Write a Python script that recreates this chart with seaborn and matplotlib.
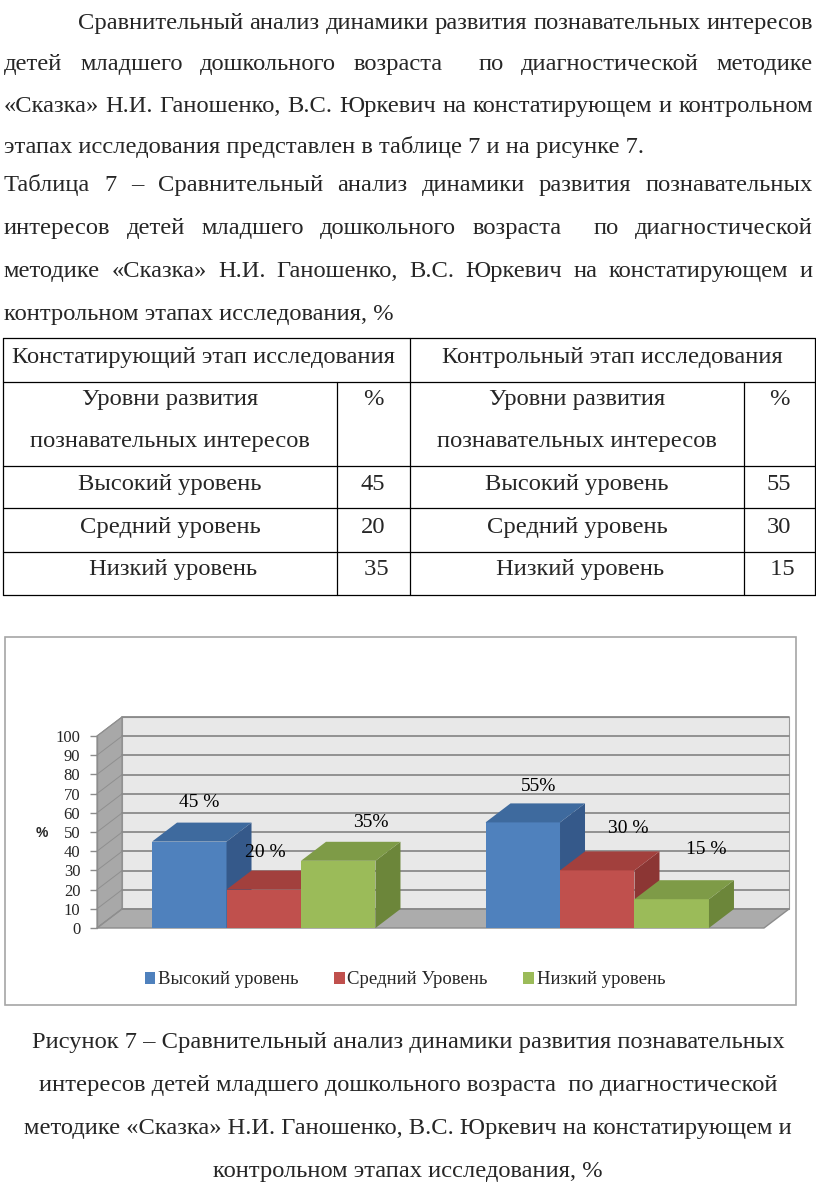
import matplotlib
matplotlib.use("Agg")
import matplotlib.pyplot as plt
import seaborn as sns
import pandas as pd
from matplotlib.patches import Polygon, Rectangle
from matplotlib.lines import Line2D

# ---------------- data ----------------
stages = ["Констатирующий этап", "Контрольный этап"]
levels = ["Высокий уровень", "Средний Уровень", "Низкий уровень"]
high_values = [45, 55]
mid_values = [20, 30]
low_values = [35, 15]
label_texts = [["45 %", "55%"], ["20 %", "30 %"], ["35%", "15 %"]]
yticks = list(range(0, 101, 10))

table_header_1 = ["Констатирующий этап исследования", "Контрольный этап исследования"]
table_header_2a = "Уровни развития"
table_header_2b = "познавательных интересов"
table_levels = ["Высокий уровень", "Средний уровень", " Низкий уровень"]
table_stage1 = ["45", "20", " 35"]
table_stage2 = ["55", "30", " 15"]

paragraph_lines = [
    "Сравнительный анализ динамики развития познавательных интересов",
    "детей младшего дошкольного возраста  по диагностической методике",
    "«Сказка» Н.И. Ганошенко, В.С. Юркевич на констатирующем и контрольном",
    "этапах исследования представлен в таблице 7 и на рисунке 7.",
]
table_title_lines = [
    "Таблица 7 – Сравнительный анализ динамики развития познавательных",
    "интересов детей младшего дошкольного возраста  по диагностической",
    "методике «Сказка» Н.И. Ганошенко, В.С. Юркевич на констатирующем и",
    "контрольном этапах исследования, %",
]
caption_lines = [
    "Рисунок 7 – Сравнительный анализ динамики развития познавательных",
    "интересов детей младшего дошкольного возраста  по диагностической",
    "методике «Сказка» Н.И. Ганошенко, В.С. Юркевич на констатирующем и",
    "контрольном этапах исследования, %",
]

# ---------------- style ----------------
sns.set_style("white")
plt.rcParams["font.family"] = ["Liberation Serif", "DejaVu Serif"]

front_colors = ["#4F81BD", "#C0504D", "#9BBB59"]
top_colors = ["#3E6A9E", "#A2403D", "#7E9B47"]
side_colors = ["#35598A", "#8C3634", "#6C863A"]

W, H = 816, 1192
fig = plt.figure(figsize=(W / 100, H / 100), dpi=100)
fig.patch.set_facecolor("white")
renderer = fig.canvas.get_renderer()


def put(text, x, y, ha="left", fs=14, **kw):
    return fig.text(x / W, 1 - y / H, text, ha=ha, va="baseline", fontsize=fs, **kw)


def width_of(text, fs):
    t = put(text, 0, -500, fs=fs)
    w = t.get_window_extent(renderer).width
    t.remove()
    return w


def justify(text, y, x0, x1, fs):
    words = text.split(" ")
    objs, widths = [], []
    for wd in words:
        if wd == "":
            objs.append(None)
            widths.append(0.0)
            continue
        t = put(wd, 0, y, fs=fs)
        objs.append(t)
        widths.append(t.get_window_extent(renderer).width)
    gap = (x1 - x0 - sum(widths)) / (len(words) - 1)
    x = x0
    for t, wd in zip(objs, widths):
        if t is not None:
            t.set_x(x / W)
        x += wd + gap


def hline(x0, x1, y, **kw):
    fig.add_artist(Line2D([x0 / W, x1 / W], [1 - y / H, 1 - y / H],
                          transform=fig.transFigure, **kw))


def vline(x, y0, y1, **kw):
    fig.add_artist(Line2D([x / W, x / W], [1 - y0 / H, 1 - y1 / H],
                          transform=fig.transFigure, **kw))


# body font size fitted to the width of a left-aligned line
fs_body = 16 * 640 / width_of(paragraph_lines[3], 16)

# ---------------- paragraph ----------------
base_y = [29, 70, 112, 153]
justify(paragraph_lines[0], base_y[0], 78, 813, fs_body)
justify(paragraph_lines[1], base_y[1], 4, 813, fs_body)
justify(paragraph_lines[2], base_y[2], 4, 813, fs_body)
put(paragraph_lines[3], 4, base_y[3], fs=fs_body)

tt_y = [191, 234, 277, 320]
justify(table_title_lines[0], tt_y[0], 4, 813, fs_body)
justify(table_title_lines[1], tt_y[1], 4, 813, fs_body)
justify(table_title_lines[2], tt_y[2], 4, 813, fs_body)
put(table_title_lines[3], 4, tt_y[3], fs=fs_body)

# ---------------- table ----------------
lw_t = 0.9
row_y = [338, 382, 466, 508, 552, 595]
for yy in row_y:
    hline(3, 815, yy, color="black", lw=lw_t)
vline(3, 338, 595, color="black", lw=lw_t)
vline(410, 338, 595, color="black", lw=lw_t)
vline(815, 338, 595, color="black", lw=lw_t)
vline(337, 382, 595, color="black", lw=lw_t)
vline(744, 382, 595, color="black", lw=lw_t)

put(table_header_1[0], 203, 363, ha="center", fs=fs_body)
put(table_header_1[1], 612, 363, ha="center", fs=fs_body)
for cx, pcx in [(170, 373), (577, 779)]:
    put(table_header_2a, cx, 405, ha="center", fs=fs_body)
    put(table_header_2b, cx, 447, ha="center", fs=fs_body)
    put("%", pcx, 405, ha="center", fs=fs_body)
row_base = [490, 533, 575]
for i in range(3):
    put(table_levels[i], 170, row_base[i], ha="center", fs=fs_body)
    put(table_levels[i], 577, row_base[i], ha="center", fs=fs_body)
    put(table_stage1[i], 373, row_base[i], ha="center", fs=fs_body)
    put(table_stage2[i], 779, row_base[i], ha="center", fs=fs_body)

# ---------------- chart frame ----------------
fig.add_artist(Rectangle((5 / W, 1 - 1005 / H), (796 - 5) / W, (1005 - 637) / H,
                         transform=fig.transFigure, fill=False,
                         edgecolor="#A6A6A6", lw=1.2))

# axes = front plane of the 3D chart
ax = fig.add_axes([97 / W, 1 - 928 / H, (764 - 97) / W, (928 - 736) / H])
ax.set_facecolor("none")

df = pd.DataFrame({
    "stage": stages * 3,
    "level": [levels[0]] * 2 + [levels[1]] * 2 + [levels[2]] * 2,
    "value": high_values + mid_values + low_values,
})
sns.barplot(data=df, x="stage", y="value", hue="level", hue_order=levels,
            palette=front_colors, saturation=1, width=0.67, linewidth=0,
            ax=ax, legend=True)

ax.set_xlim(-0.5, 1.5)
ax.set_ylim(0, 100)
for sp in ax.spines.values():
    sp.set_visible(False)
ax.set_xticks([])
ax.set_xlabel("")
ax.set_ylabel("")
ax.set_yticks(yticks)
ax.set_yticklabels([str(v) for v in yticks], fontsize=12)
ax.tick_params(axis="y", direction="out", length=5, width=1, color="#8C8C8C",
               pad=7, left=True)

# depth offsets (pixels converted to data units)
dx = 25 / ((764 - 97) / 2.0)
dy = 19 / ((928 - 736) / 100.0)
x_l, x_r = -0.5, 1.5

# back wall
ax.add_patch(Rectangle((x_l + dx, dy), x_r - x_l, 100, facecolor="#E8E8E8",
                       edgecolor="#9A9A9A", lw=0.8, clip_on=False, zorder=0.5))
# side wall
ax.add_patch(Polygon([(x_l, 0), (x_l + dx, dy), (x_l + dx, 100 + dy), (x_l, 100)],
                     closed=True, facecolor="#A8A8A8", edgecolor="#8C8C8C",
                     lw=0.8, clip_on=False, zorder=0.6))
# floor
ax.add_patch(Polygon([(x_l, 0), (x_r, 0), (x_r + dx, dy), (x_l + dx, dy)],
                     closed=True, facecolor="#ACACAC", edgecolor="#8C8C8C",
                     lw=1.0, clip_on=False, zorder=0.7))
# gridlines on back wall and side wall
for v in yticks:
    ax.add_line(Line2D([x_l + dx, x_r + dx], [v + dy, v + dy], color="#8A8A8A",
                       lw=1.3, clip_on=False, zorder=0.8))
    ax.add_line(Line2D([x_l, x_l + dx], [v, v + dy], color="#8F8F8F",
                       lw=0.7, clip_on=False, zorder=0.8))
ax.add_line(Line2D([x_l, x_l], [0, 100], color="#8C8C8C", lw=1.0,
                   clip_on=False, zorder=0.9))

# 3D faces of bars
bars = []
for hi, cont in enumerate(ax.containers):
    for gi, p in enumerate(cont.patches):
        bars.append((p.get_x(), hi, gi, p))
bars.sort(key=lambda b: b[0])
label_offsets = {  # (hue, group): pixel offset of value label from front-top centre
    (0, 0): (10, 39), (1, 0): (2, 37), (2, 0): (33, 38),
    (0, 1): (16, 36), (1, 1): (31, 42), (2, 1): (35, 50),
}
for k, (x0, hi, gi, p) in enumerate(bars):
    w = p.get_width()
    h = p.get_height()
    z = 3 + k
    p.set_zorder(z)
    ax.add_patch(Polygon([(x0 + w, 0), (x0 + w + dx, dy), (x0 + w + dx, h + dy), (x0 + w, h)],
                         closed=True, facecolor=side_colors[hi], edgecolor="none",
                         clip_on=False, zorder=z))
    ax.add_patch(Polygon([(x0, h), (x0 + w, h), (x0 + w + dx, h + dy), (x0 + dx, h + dy)],
                         closed=True, facecolor=top_colors[hi], edgecolor="none",
                         clip_on=False, zorder=z))
    ox, oy = label_offsets[(hi, gi)]
    ax.annotate(label_texts[hi][gi], (x0 + w / 2, h), xytext=(ox, oy),
                textcoords="offset pixels", ha="center", va="center",
                fontsize=14, color="black", zorder=20, annotation_clip=False)

# y-axis label
fig.text(42 / W, 1 - 833 / H, "%", ha="center", va="center", fontsize=10,
         fontweight="bold", family=["Liberation Sans", "DejaVu Sans"])

# legend
sns.move_legend(ax, "center", bbox_to_anchor=((405 - 97) / (764 - 97), (928 - 980) / (928 - 736)),
                ncol=3, frameon=False, title=None, fontsize=13.5,
                handlelength=0.55, handleheight=0.55, handletextpad=0.15,
                columnspacing=1.9)

# ---------------- caption ----------------
cap_y = [1048, 1091, 1134, 1177]
for line, yy in zip(caption_lines, cap_y):
    put(line, 408, yy, ha="center", fs=fs_body)

fig.savefig("out.png", dpi=100, facecolor="white")
